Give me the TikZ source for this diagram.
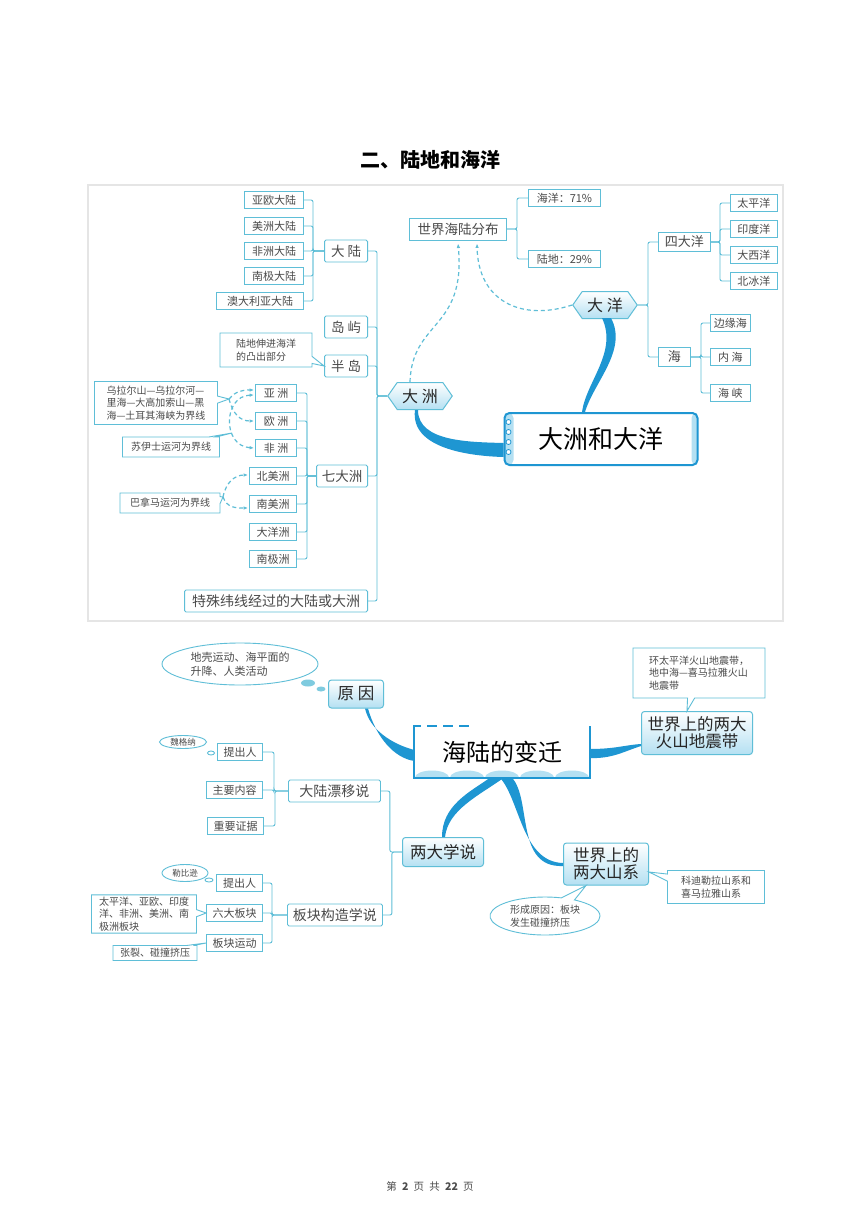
\documentclass[tikz,border=0pt]{standalone}
\usepackage{fontspec}
\setmainfont{Noto Sans CJK SC}
\usepackage{tikz}
\usetikzlibrary{arrows.meta}
\usetikzlibrary{shapes}
\usetikzlibrary{shapes.callouts}
\usetikzlibrary{shapes.symbols}
\definecolor{lineblue}{HTML}{5FBED7}
\definecolor{branchblue}{HTML}{1E96D2}
\definecolor{txtgray}{HTML}{4A4A4A}
\definecolor{pale}{HTML}{B4E0F2}
\newcommand\fsz[2]{\fontsize{#1}{#2}\selectfont}

\begin{document}
\begin{tikzpicture}[x=1pt, y=-1pt,
        leaf/.style={draw=lineblue, line width=.9pt, fill=white, text=txtgray, inner sep=1pt, minimum height=17pt, font=\fsz{11}{12}},
        sub/.style={draw=lineblue, line width=.9pt, fill=white, text=txtgray, rounded corners=1.5pt, minimum height=22pt, inner sep=2pt, font=\fsz{13.5}{15}},
        topic/.style={draw=lineblue, line width=1pt, top color=white, bottom color=pale, rounded corners=3pt, text=black!85, align=center, inner sep=2pt, font=\fsz{16.5}{19}},
        hexa/.style={signal, signal to=east and west, signal pointer angle=110, draw=lineblue, line width=1pt, top color=white, bottom color=pale, text=black!85, minimum height=27pt, inner xsep=5pt, font=\fsz{16}{18}},
        note/.style={rectangle callout, draw=lineblue, line width=.9pt, fill=white, text=txtgray, align=left, inner sep=2pt, font=\fsz{10}{12.5}},
        bubble/.style={ellipse, draw=lineblue, line width=.9pt, fill=white, text=txtgray, align=left, inner sep=0pt, font=\fsz{10}{12.5}},
        ln/.style={draw=lineblue, line width=.9pt, rounded corners=2pt},
        dashln/.style={draw=lineblue, line width=1.2pt, dash pattern=on 4pt off 3pt, -{Latex[length=4.5pt,width=3.5pt]}},
        br/.style={fill=branchblue}]
        \useasboundingbox[fill=white] (0,0) rectangle (860,1216);

        \node[font=\fsz{20}{22}\bfseries] (title) at (430,160) {二、陆地和海洋};
        \draw[black!10, line width=1.5pt] (88,185) rectangle (783,621);

        % upper map: left side
        \node[leaf, anchor=east, minimum width=59pt] (yaou) at (304,200) {亚欧大陆};
        \node[leaf, anchor=east, minimum width=59pt] (meizhou) at (304,226) {美洲大陆};
        \node[leaf, anchor=east, minimum width=59pt] (feizhou) at (304,251) {非洲大陆};
        \node[leaf, anchor=east, minimum width=59pt] (nanji) at (304,276) {南极大陆};
        \node[leaf, anchor=east, minimum width=87pt] (aodaliya) at (304,301) {澳大利亚大陆};
        \node[sub, anchor=east, minimum width=43pt] (dalu) at (368,251) {大\ 陆};
        \node[sub, anchor=east, minimum width=43pt] (daoyu) at (368,327) {岛\ 屿};
        \node[sub, anchor=east, minimum width=43pt] (bandao) at (368,366) {半\ 岛};
        \node[sub, anchor=east, minimum width=51pt] (qidazhou) at (368,476) {七大洲};
        \node[sub, anchor=east, minimum width=183pt, font=\fsz{14}{16}] (teshu) at (368,601) {特殊纬线经过的大陆或大洲};
        \node[leaf, anchor=east, minimum width=41pt] (yazhou) at (297,393) {亚\ 洲};
        \node[leaf, anchor=east, minimum width=41pt] (ouzhou) at (297,421) {欧\ 洲};
        \node[leaf, anchor=east, minimum width=41pt] (feiz) at (297,448) {非\ 洲};
        \node[leaf, anchor=east, minimum width=47pt] (beimei) at (297,476) {北美洲};
        \node[leaf, anchor=east, minimum width=47pt] (nanmei) at (297,504) {南美洲};
        \node[leaf, anchor=east, minimum width=47pt] (dayangzhou) at (297,532) {大洋洲};
        \node[leaf, anchor=east, minimum width=47pt] (nanjizhou) at (297,559) {南极洲};

        \node[note, minimum width=92pt, minimum height=34pt, callout absolute pointer={(bandao.west)}] (bandaonote) at (266,350) {陆地伸进海洋\\的凸出部分};
        \coordinate (tip1) at (229,399);
        \coordinate (tip2) at (232,433);
        \coordinate (tip3) at (223,497);
        \node[note, minimum width=123pt, minimum height=43pt, callout absolute pointer={(tip1)}] (ural) at (156,403) {乌拉尔山—乌拉尔河—\\里海—大高加索山—黑\\海—土耳其海峡为界线};
        \node[note, minimum width=97pt, minimum height=20pt, callout absolute pointer={(tip2)}] (suez) at (171,447) {苏伊士运河为界线};
        \node[note, minimum width=100pt, minimum height=20pt, callout absolute pointer={(tip3)}] (panama) at (170,503) {巴拿马运河为界线};

        % upper map: right side
        \node[hexa, minimum width=61pt] (dazhou) at (420,396) {大\ 洲};
        \node[hexa, minimum width=64pt] (dayang) at (605,305) {大\ 洋};
        \node[leaf, minimum width=97pt, minimum height=22pt, font=\fsz{13.5}{15}] (sjhl) at (458,229) {世界海陆分布};
        \node[leaf, anchor=west, minimum width=72pt] (haiyang) at (528,198) {海洋：71\%};
        \node[leaf, anchor=west, minimum width=72pt] (ludi) at (528,259) {陆地：29\%};
        \node[leaf, anchor=west, minimum width=52pt, minimum height=19pt, font=\fsz{13}{15}] (sidayang) at (658,242) {四大洋};
        \node[leaf, anchor=west, minimum width=32pt, minimum height=19pt, font=\fsz{13}{15}] (hai) at (658,357) {海};
        \node[leaf, anchor=west, minimum width=47pt] (taiping) at (730,203) {太平洋};
        \node[leaf, anchor=west, minimum width=47pt] (yindu) at (730,229) {印度洋};
        \node[leaf, anchor=west, minimum width=47pt] (daxi) at (730,255) {大西洋};
        \node[leaf, anchor=west, minimum width=47pt] (beibing) at (730,281) {北冰洋};
        \node[leaf, anchor=west, minimum width=40pt] (bianyuan) at (710,323) {边缘海};
        \node[leaf, anchor=west, minimum width=40pt] (neihai) at (710,357) {内\ 海};
        \node[leaf, anchor=west, minimum width=40pt] (haixia) at (710,393) {海\ 峡};
        \node[draw=branchblue, line width=2pt, rounded corners=5pt, fill=white, minimum width=193pt, minimum height=52pt, font=\fsz{25}{27},
            path picture={\fill[pale] (path picture bounding box.north west) rectangle ([xshift=9pt]path picture bounding box.south west);
                \fill[pale] ([xshift=-6pt]path picture bounding box.north east) rectangle (path picture bounding box.south east);}] (zhouyang) at (601,439) {大洲和大洋};
        \foreach \k in {1,...,4}
            \draw[branchblue, line width=.8pt, fill=white] ([shift={(5,\k*10)}]zhouyang.north west) circle (2.5);

        % upper map: connectors
        \foreach \n in {yaou,meizhou,feizhou,nanji,aodaliya}
            \draw[ln] (\n.east) -- ++(9,0) |- (dalu.west);
        \foreach \n in {dalu,daoyu,bandao,qidazhou,teshu}
            \draw[ln] (\n.east) -- ++(9,0) |- (dazhou.west);
        \foreach \n in {yazhou,ouzhou,feiz,beimei,nanmei,dayangzhou,nanjizhou}
            \draw[ln] (\n.east) -- ++(10,0) |- (qidazhou.west);
        \foreach \n in {haiyang,ludi}
            \draw[ln] (\n.west) -- ++(-11,0) |- (sjhl.east);
        \foreach \n in {sidayang,hai}
            \draw[ln] (\n.west) -- ++(-10,0) |- (dayang.east);
        \foreach \n in {taiping,yindu,daxi,beibing}
            \draw[ln] (\n.west) -- ++(-10,0) |- (sidayang.east);
        \foreach \n in {bianyuan,neihai,haixia}
            \draw[ln] (\n.west) -- ++(-9,0) |- (hai.east);

        \draw[dashln] (tip1) .. controls (236,391) and (242,390) .. ([shift={(-1,-3)}]yazhou.west);
        \draw[dashln] (tip1) .. controls (233,414) and (240,421) .. ([shift={(-1,0)}]ouzhou.west);
        \draw[dashln, {Latex[length=4.5pt,width=3.5pt]}-{Latex[length=4.5pt,width=3.5pt]}] ([shift={(-1,2)}]yazhou.west) .. controls (223,396) and (222,446) .. ([shift={(-1,0)}]feiz.west);
        \draw[dashln] (tip3) .. controls (226,482) and (235,475) .. ([shift={(-1,-1)}]beimei.west);
        \draw[dashln] (tip3) .. controls (227,508) and (236,508) .. ([shift={(-1,4)}]nanmei.west);
        \draw[dashln] ([shift={(-10,0)}]dazhou.north) .. controls (412,320) and (466,330) .. ([shift={(0,3)}]sjhl.south);
        \draw[dashln] (dayang.west) .. controls (520,322) and (478,300) .. ([shift={(19,3)}]sjhl.south);

        \fill[br] ([shift={(-2,0)}]dazhou.south) .. controls (418,442) and (470,442) .. ([shift={(0,4)}]zhouyang.west)
            -- ([shift={(0,18)}]zhouyang.west) .. controls (468,456) and (410,448) .. ([shift={(-5,0)}]dazhou.south) -- cycle;
        \fill[br] ([shift={(-3,-1)}]dayang.south) .. controls (618,352) and (586,382) .. ([shift={(-19,0)}]zhouyang.north)
            -- ([shift={(-16,0)}]zhouyang.north) .. controls (594,382) and (628,350) .. ([shift={(6,-1)}]dayang.south) -- cycle;

        % lower map
        \node[fill=white, minimum width=175pt, minimum height=51pt, font=\fsz{24}{26},
            path picture={\foreach \i in {0,...,4}
                \fill[pale] ([shift={(\i*35+17.5,0)}]path picture bounding box.south west) ellipse (17 and 7);}] (cen) at (502,752) {海陆的变迁};
        \draw[branchblue, line width=2pt] (cen.north east) -- (cen.south east) -- (cen.south west) -- (cen.north west) -- ++(7,0);
        \draw[branchblue, line width=2pt, dash pattern=on 10pt off 6pt] ([shift={(13,0)}]cen.north west) -- ([shift={(60,0)}]cen.north west);

        \node[topic, minimum width=55pt, minimum height=28pt] (yuanyin) at (356,694) {原\ 因};
        \node[topic, minimum width=81pt, minimum height=29pt] (liangdaxs) at (443,852) {两大学说};
        \node[topic, minimum width=111pt, minimum height=43pt, font=\fsz{16.5}{17}] (huoshan) at (697,733) {世界上的两大\\火山地震带};
        \node[topic, minimum width=85pt, minimum height=42pt, font=\fsz{16.5}{17}] (shanxi) at (606,864) {世界上的\\两大山系};

        \node[sub, anchor=west, minimum width=92pt, font=\fsz{14}{16}] (piaoyi) at (288,791) {大陆漂移说};
        \node[sub, anchor=west, minimum width=95pt, font=\fsz{14}{16}] (bankuai) at (287,915) {板块构造学说};
        \node[leaf, anchor=east, minimum width=45pt] (tichu1) at (263,752) {提出人};
        \node[leaf, anchor=east, minimum width=56pt] (zhuyao) at (263,790) {主要内容};
        \node[leaf, anchor=east, minimum width=56pt] (zhengju) at (264,826) {重要证据};
        \node[leaf, anchor=east, minimum width=46pt] (tichu2) at (263,883) {提出人};
        \node[leaf, anchor=east, minimum width=56pt] (liuda) at (263,913) {六大板块};
        \node[leaf, anchor=east, minimum width=56pt] (yundong) at (263,943) {板块运动};

        \node[bubble, minimum width=156pt, minimum height=42pt, font=\fsz{11}{14}] (yuanyinnote) at (240,664) {地壳运动、海平面的\\升降、人类活动};
        \fill[lineblue!80] (308,683) ellipse (7 and 3.5);
        \fill[lineblue!80] (321,689) ellipse (4.5 and 2.5);
        \node[bubble, minimum width=47pt, minimum height=13pt, font=\fsz{8.5}{10}] (weigena) at (183,742) {魏格纳};
        \draw[ln] (211,753) ellipse (3.5 and 2);
        \node[bubble, minimum width=46pt, minimum height=17pt, font=\fsz{8.5}{10}] (lebi) at (185,873) {勒比逊};
        \draw[ln] (209,880) ellipse (4 and 2);
        \node[note, minimum width=105pt, minimum height=38pt, callout absolute pointer={(liuda.west)}] (liudanote) at (144,914) {太平洋、亚欧、印度\\洋、非洲、美洲、南\\极洲板块};
        \node[note, minimum width=84pt, minimum height=15pt, callout absolute pointer={(yundong.west)}] (zhanglie) at (155,953) {张裂、碰撞挤压};
        \node[note, minimum width=132pt, minimum height=50pt, callout absolute pointer={([shift={(-10,0)}]huoshan.north)}] (huoshannote) at (699,673) {环太平洋火山地震带，\\地中海—喜马拉雅火山\\地震带};
        \node[note, minimum width=97pt, minimum height=33pt, callout absolute pointer={([shift={(0,8)}]shanxi.east)}] (kedi) at (716,887) {科迪勒拉山系和\\喜马拉雅山系};
        \node[ellipse callout, draw=lineblue, line width=.9pt, fill=white, text=txtgray, align=left, inner sep=0pt, font=\fsz{10}{12.5},
            minimum width=110pt, minimum height=38pt, callout absolute pointer={([shift={(-20,0)}]shanxi.south)}] (chengyin) at (545,916) {形成原因：板块\\发生碰撞挤压};

        % lower map: connectors
        \foreach \n in {tichu1,zhuyao,zhengju}
            \draw[ln] (\n.east) -- ++(11,0) |- (piaoyi.west);
        \foreach \n in {piaoyi,bankuai}
            \draw[ln] (\n.east) -- ++(9,0) |- (liangdaxs.west);
        \foreach \n in {tichu2,liuda,yundong}
            \draw[ln] (\n.east) -- ++(9,0) |- (bankuai.west);

        \fill[br] ([shift={(0,-2)}]cen.west) .. controls (392,744) and (370,730) .. ([shift={(9,0)}]yuanyin.south)
            -- ([shift={(12,0)}]yuanyin.south) .. controls (376,737) and (394,758) .. ([shift={(0,9)}]cen.west) -- cycle;
        \fill[br] ([shift={(-12,0)}]cen.south) .. controls (470,792) and (442,805) .. ([shift={(-1,0)}]liangdaxs.north)
            -- ([shift={(2,0)}]liangdaxs.north) .. controls (448,810) and (478,796) .. ([shift={(2,0)}]cen.south) -- cycle;
        \fill[br] ([shift={(-2,0)}]cen.south) .. controls (520,800) and (522,862) .. ([shift={(0,-1)}]shanxi.west)
            -- ([shift={(0,2)}]shanxi.west) .. controls (515,868) and (532,800) .. ([shift={(10,0)}]cen.south) -- cycle;
        \fill[br] ([shift={(0,-3)}]cen.east) .. controls (615,749) and (625,745) .. ([shift={(0,11)}]huoshan.west)
            -- ([shift={(0,13)}]huoshan.west) .. controls (625,751) and (612,759) .. ([shift={(0,6)}]cen.east) -- cycle;

        \node[text=black!70, font=\fsz{10.5}{12}] (footer) at (430,1186) {第\enspace\textbf{2}\enspace 页\enspace 共\enspace\textbf{22}\enspace 页};
    \end{tikzpicture}
\end{document}
